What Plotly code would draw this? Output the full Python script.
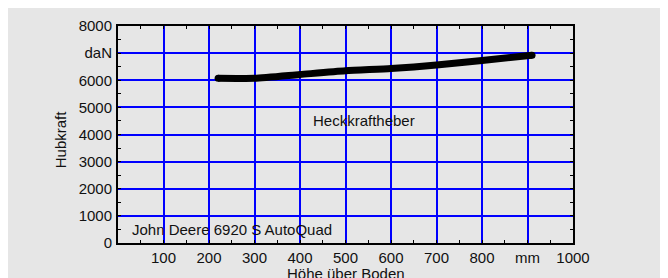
import plotly.graph_objects as go

# data
hoehe = [220, 300, 400, 500, 600, 700, 800, 910]          # mm
hubkraft = [6070, 6070, 6210, 6350, 6430, 6560, 6730, 6920]  # daN

x_tickvals = [100, 200, 300, 400, 500, 600, 700, 800, 900, 1000]
x_ticktext = ["100", "200", "300", "400", "500", "600", "700", "800", "mm", "1000"]
y_tickvals = [0, 1000, 2000, 3000, 4000, 5000, 6000, 7000, 8000]
y_ticktext = ["0", "1000", "2000", "3000", "4000", "5000", "6000", "daN", "8000"]

FONT = "Liberation Sans"
FS = 15
TXT = "#111111"
BG = "#e6e6e6"

fig = go.Figure()
fig.add_trace(go.Scatter(x=hoehe, y=hubkraft, mode="lines",
                         line=dict(color="black", width=7, shape="spline", smoothing=0.6),
                         hoverinfo="skip", showlegend=False))
fig.add_trace(go.Scatter(x=[hoehe[0], hoehe[-1]], y=[hubkraft[0], hubkraft[-1]], mode="markers",
                         marker=dict(color="black", size=7, line=dict(width=0)),
                         hoverinfo="skip", showlegend=False))

axis_common = dict(showline=True, linecolor="black", linewidth=2, mirror="allticks",
                   ticks="inside", ticklen=3, tickcolor="black", tickwidth=1,
                   gridcolor="#0000ff", gridwidth=2, zeroline=False,
                   tickfont=dict(family=FONT, size=FS, color=TXT))

fig.update_xaxes(range=[0, 1000], tickvals=x_tickvals, ticktext=x_ticktext,
                 minor=dict(dtick=50, ticks="inside", ticklen=3, tickcolor="black", showgrid=False),
                 ticklabelstandoff=0, **axis_common)
fig.update_yaxes(range=[0, 8000], tickvals=y_tickvals, ticktext=y_ticktext,
                 minor=dict(dtick=500, ticks="inside", ticklen=3, tickcolor="black", showgrid=False),
                 ticklabelstandoff=1, **axis_common)

fig.add_annotation(x=424, y=4530, xref="x", yref="y", text="Heckkraftheber", showarrow=False,
                   xanchor="left", yanchor="middle", font=dict(family=FONT, size=FS, color=TXT))
fig.add_annotation(x=26, y=505, xref="x", yref="y", text="John Deere 6920 S AutoQuad", showarrow=False,
                   xanchor="left", yanchor="middle", font=dict(family=FONT, size=FS, color=TXT))
# axis titles
fig.add_annotation(x=0.501, y=-0.093, xref="paper", yref="paper", text="Höhe über Boden", showarrow=False,
                   xanchor="center", yanchor="top", font=dict(family=FONT, size=FS, color=TXT))
fig.add_annotation(x=-0.1275, y=0.478, xref="paper", yref="paper", text="Hubkraft", showarrow=False,
                   textangle=-90, xanchor="center", yanchor="middle",
                   font=dict(family=FONT, size=FS, color=TXT))

fig.update_layout(width=660, height=270, margin=dict(l=110, r=95, t=9, b=35),
                  paper_bgcolor=BG, plot_bgcolor=BG, showlegend=False)

fig.write_html("out.html")
